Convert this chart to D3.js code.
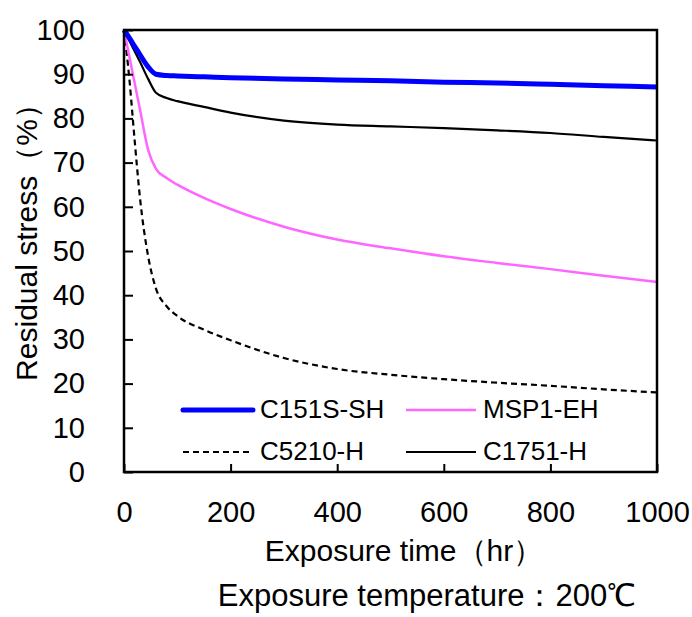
<!DOCTYPE html>
<html>
<head>
<meta charset="utf-8">
<script src="https://cdn.jsdelivr.net/npm/d3@7"></script>
<style>
  body { margin: 0; background: #fff; }
  text { font-family: "Liberation Sans", Arial, sans-serif; fill: #000; }
</style>
</head>
<body>
<div id="chart"></div>
<script>
// Data
var hours = [0, 10, 20, 30, 45, 60, 80, 100, 150, 200, 300, 400, 500, 600, 700, 800, 900, 1000];

var c151s = [100, 98.2, 96.3, 94.4, 91.7, 90.0, 89.7, 89.6, 89.4, 89.2, 88.9, 88.7, 88.5, 88.2, 88.0, 87.7, 87.4, 87.1];
var msp1  = [100, 94, 88, 82, 73, 68.6, 66.5, 65.0, 62.0, 59.5, 55.5, 52.6, 50.6, 48.8, 47.3, 45.9, 44.4, 43];
var c5210 = [100, 89, 75, 62, 49, 41.5, 37.5, 35.3, 32.2, 29.8, 25.8, 23.3, 22, 21, 20.2, 19.5, 18.7, 18];
var c1751 = [100, 97.6, 95.2, 92.8, 89.0, 85.8, 84.6, 83.9, 82.6, 81.3, 79.5, 78.6, 78.2, 77.8, 77.3, 76.7, 75.8, 75];

var xTicks = [0, 200, 400, 600, 800, 1000];
var yTicks = [0, 10, 20, 30, 40, 50, 60, 70, 80, 90, 100];

var series = [
  {name: 'C151S-SH', values: c151s, color: '#0000ff', width: 5, dash: null},
  {name: 'MSP1-EH', values: msp1, color: '#ff66ff', width: 2.5, dash: null},
  {name: 'C5210-H', values: c5210, color: '#000', width: 2.2, dash: '6,4'},
  {name: 'C1751-H', values: c1751, color: '#000', width: 2.2, dash: null}
];

var sizes = {width: 692, height: 617};
var m = {left: 124, top: 30, right: 35, bottom: 145};
var w = sizes.width - m.left - m.right,
    h = sizes.height - m.top - m.bottom;

var svg = d3.select('#chart').append('svg')
    .attr('width', sizes.width)
    .attr('height', sizes.height);

var x = d3.scaleLinear().domain([0, 1000]).range([0, w]);
var y = d3.scaleLinear().domain([0, 100]).range([h, 0]);

var g = svg.append('g').attr('transform', 'translate(' + m.left + ',' + m.top + ')');

// lines
var line = d3.line()
    .x(function(d, i){ return x(hours[i]); })
    .y(function(d){ return y(d); })
    .curve(d3.curveMonotoneX);

// draw order: dashed, pink, black, blue on top
[2, 1, 3, 0].forEach(function(k){
  var s = series[k];
  g.append('path')
    .attr('d', line(s.values))
    .attr('fill', 'none')
    .attr('stroke', s.color)
    .attr('stroke-width', s.width)
    .attr('stroke-dasharray', s.dash)
    .attr('stroke-linejoin', 'round');
});

// axes, ticks inside
var xAxis = d3.axisBottom(x).tickValues(xTicks).tickFormat(d3.format('d'))
    .tickSizeInner(-8).tickSizeOuter(0).tickPadding(29);
var yAxis = d3.axisLeft(y).tickValues(yTicks).tickFormat(d3.format('d'))
    .tickSizeInner(-9).tickSizeOuter(0).tickPadding(39);

var gx = g.append('g').attr('transform', 'translate(0,' + h + ')').call(xAxis);
var gy = g.append('g').call(yAxis);

[gx, gy].forEach(function(a){
  a.attr('font-size', null).attr('font-family', null);
  a.select('.domain').remove();
  a.selectAll('line').attr('stroke', '#000').attr('stroke-width', 2);
  a.selectAll('text').style('font-size', '29px');
});

// frame
g.append('rect')
  .attr('width', w).attr('height', h)
  .attr('fill', 'none')
  .attr('stroke', '#000')
  .attr('stroke-width', 2.5);

// legend
var legendPos = [
  {x: 183, y: 410}, {x: 406, y: 410},
  {x: 183, y: 452}, {x: 406, y: 452}
];
series.forEach(function(s, i){
  var p = legendPos[i];
  svg.append('line')
    .attr('x1', p.x).attr('x2', p.x + 70)
    .attr('y1', p.y).attr('y2', p.y)
    .attr('stroke', s.color)
    .attr('stroke-width', s.width)
    .attr('stroke-linecap', s.width > 3 ? 'round' : 'butt')
    .attr('stroke-dasharray', s.dash);
  svg.append('text')
    .attr('x', p.x + 77).attr('y', p.y + 8)
    .style('font-size', '26px')
    .text(s.name);
});

// titles
svg.append('text')
  .attr('x', 404).attr('y', 561)
  .attr('text-anchor', 'middle')
  .style('font-size', '30px')
  .text('Exposure time（hr）');

svg.append('text')
  .attr('transform', 'translate(37,235) rotate(-90)')
  .attr('text-anchor', 'middle')
  .style('font-size', '30px')
  .text('Residual stress（%）');

svg.append('text')
  .attr('x', 427).attr('y', 606)
  .attr('text-anchor', 'middle')
  .style('font-size', '31px')
  .text('Exposure temperature：200℃');
</script>
</body>
</html>
